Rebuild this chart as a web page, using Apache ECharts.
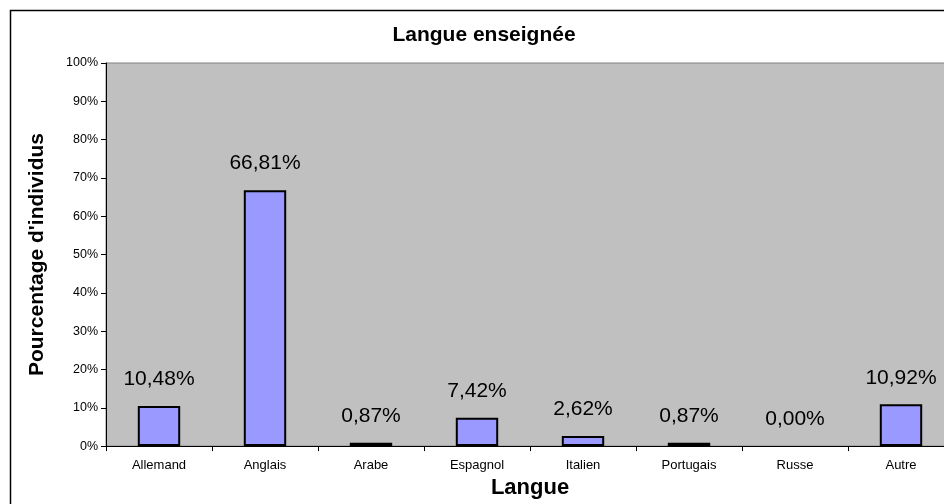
<!DOCTYPE html>
<html>
<head>
<meta charset="utf-8">
<script src="https://cdn.jsdelivr.net/npm/echarts@6/dist/echarts.min.js"></script>
<style>
html,body{margin:0;padding:0;background:#fff;overflow:hidden;width:944px;height:504px;}
#c{width:970px;height:504px;}
</style>
</head>
<body>
<div id="c"></div>
<script>
const categories = ["Allemand", "Anglais", "Arabe", "Espagnol", "Italien", "Portugais", "Russe", "Autre"];
const values = [10.48, 66.81, 0.87, 7.42, 2.62, 0.87, 0.00, 10.92];
const yTicks = [0, 10, 20, 30, 40, 50, 60, 70, 80, 90, 100];

const chart = echarts.init(document.getElementById('c'));
const F = '"Liberation Sans", Arial, sans-serif';
const barData = values.map(v => v === 0 ? {value: v, itemStyle: {borderWidth: 0}} : v);
chart.setOption({
  backgroundColor: '#ffffff',
  animation: false,
  title: {
    text: 'Langue enseignée',
    left: 479, top: 20, textAlign: 'center',
    textStyle: {fontFamily: F, fontSize: 21, fontWeight: 'bold', color: '#000'}
  },
  graphic: [{
    type: 'rect', silent: true,
    shape: {x: 10.5, y: 10.5, width: 940, height: 500},
    style: {fill: 'none', stroke: '#000', lineWidth: 1.5}
  }],
  grid: {
    left: 106, right: 16, top: 63, bottom: 57,
    show: true, backgroundColor: '#C0C0C0', borderColor: '#808080', borderWidth: 1
  },
  xAxis: {
    type: 'category', data: categories,
    name: 'Langue', nameLocation: 'middle', nameGap: 30,
    nameTextStyle: {fontFamily: F, fontSize: 22, fontWeight: 'bold', color: '#000'},
    axisLine: {lineStyle: {color: '#000', width: 1}},
    axisTick: {show: true, alignWithLabel: false, length: 5, lineStyle: {color: '#000'}},
    axisLabel: {fontFamily: F, fontSize: 13, color: '#000', margin: 13}
  },
  yAxis: {
    type: 'value', min: yTicks[0], max: yTicks[yTicks.length - 1], interval: 10,
    name: "Pourcentage d'individus", nameLocation: 'middle', nameGap: 58,
    nameTextStyle: {fontFamily: F, fontSize: 21, fontWeight: 'bold', color: '#000'},
    axisLine: {show: true, lineStyle: {color: '#000', width: 1}},
    axisTick: {show: true, length: 5, lineStyle: {color: '#000'}},
    splitLine: {show: false},
    axisLabel: {fontFamily: F, fontSize: 12.5, color: '#000', margin: 8, formatter: v => v + '%'}
  },
  series: [{
    type: 'bar', data: barData, barWidth: '40%',
    itemStyle: {color: '#9999FF', borderColor: '#000', borderWidth: 2},
    label: {
      show: true, position: 'top', distance: 16,
      fontFamily: F, fontSize: 21, color: '#000',
      formatter: p => p.value.toFixed(2).replace('.', ',') + '%'
    }
  }]
});
</script>
</body>
</html>
